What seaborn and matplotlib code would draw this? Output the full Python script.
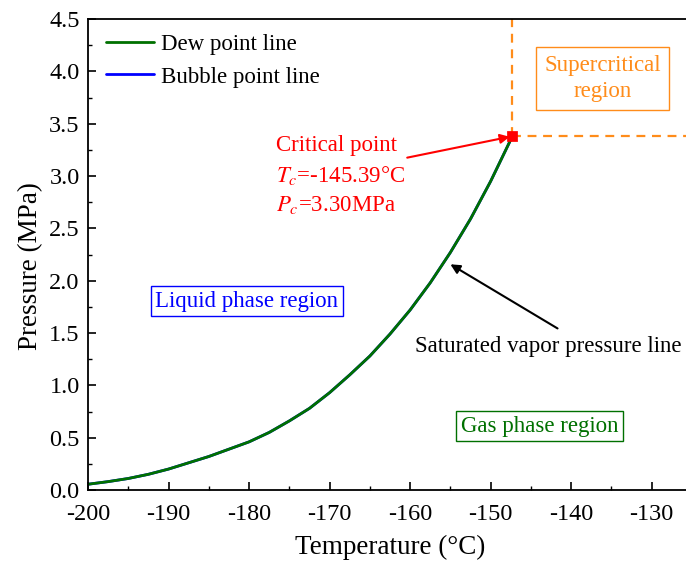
import numpy as np
import pandas as pd
import matplotlib
matplotlib.use("Agg")
import matplotlib.pyplot as plt
import seaborn as sns
from matplotlib.ticker import MultipleLocator

# Data
temperature = [-200, -197.5, -195, -192.5, -190, -187.5, -185, -182.5, -180, -177.5,
               -175, -172.5, -170, -167.5, -165, -162.5, -160, -157.5, -155, -152.5,
               -150, -147.3]
dew_pressure = [0.055, 0.08, 0.11, 0.15, 0.20, 0.26, 0.32, 0.39, 0.46, 0.55,
                0.66, 0.78, 0.93, 1.10, 1.28, 1.49, 1.72, 1.98, 2.27, 2.59,
                2.95, 3.38]
bubble_pressure = [0.055, 0.08, 0.11, 0.15, 0.20, 0.26, 0.32, 0.39, 0.46, 0.55,
                   0.66, 0.78, 0.93, 1.10, 1.28, 1.49, 1.72, 1.98, 2.27, 2.59,
                   2.95, 3.38]
critical_T = -147.3
critical_P = 3.38
x_ticks = [-200, -190, -180, -170, -160, -150, -140, -130]
y_ticks = [0.0, 0.5, 1.0, 1.5, 2.0, 2.5, 3.0, 3.5, 4.0, 4.5]

sns.set_theme(style="ticks")
plt.rcParams['font.family'] = ['Liberation Serif', 'DejaVu Serif']
plt.rcParams['mathtext.fontset'] = 'stix'
plt.rcParams['text.color'] = 'black'
plt.rcParams['axes.labelcolor'] = 'black'

df = pd.DataFrame({
    "T": temperature * 2,
    "P": bubble_pressure + dew_pressure,
    "line": ["Bubble point line"] * len(temperature) + ["Dew point line"] * len(temperature),
})

fig = plt.figure(figsize=(6.86, 5.62), dpi=100)
ax = fig.add_axes([88/686, 1 - 490/562, 604/686, 471/562])

sns.lineplot(data=df[df.line == "Bubble point line"], x="T", y="P", color="#0000FF",
             lw=2, ax=ax, label="Bubble point line", legend=False)
sns.lineplot(data=df[df.line == "Dew point line"], x="T", y="P", color="#007000",
             lw=2, ax=ax, label="Dew point line", legend=False)

orange = "#FF8C1A"
ax.plot([critical_T, critical_T], [critical_P, 4.5], ls=(0, (4, 3)), color=orange, lw=1.6)
ax.plot([critical_T, -125], [critical_P, critical_P], ls=(0, (4, 3)), color=orange, lw=1.6)
sns.scatterplot(x=[critical_T], y=[critical_P], marker="s", color="red", s=45,
                edgecolor="red", ax=ax, zorder=5)

ax.set_xlim(-200, -125)
ax.set_ylim(0, 4.5)
ax.set_xticks(x_ticks)
ax.set_yticks(y_ticks)
ax.set_xticklabels([str(t) for t in x_ticks])
ax.set_yticklabels([f"{t:.1f}" for t in y_ticks])
ax.xaxis.set_minor_locator(MultipleLocator(5))
ax.yaxis.set_minor_locator(MultipleLocator(0.25))
ax.tick_params(which="major", direction="in", length=6, width=1.2, labelsize=17.5,
               colors="black")
ax.tick_params(axis="y", which="major", pad=6)
ax.tick_params(axis="x", which="major", pad=10)
ax.tick_params(which="minor", direction="in", length=3, width=1.0, colors="black")
for s in ax.spines.values():
    s.set_linewidth(1.3)
    s.set_color("black")

ax.set_xlabel("Temperature (°C)", fontsize=19.5, labelpad=7, color="black")
ax.set_ylabel("Pressure (MPa)", fontsize=19.5, color="black")
ax.yaxis.set_label_coords(-0.075, 0.476)

handles, labels = ax.get_legend_handles_labels()
order = [labels.index("Dew point line"), labels.index("Bubble point line")]
leg = ax.legend([handles[i] for i in order], [labels[i] for i in order], loc="upper left",
                frameon=False, fontsize=16.5, handlelength=2.1, handletextpad=0.3,
                bbox_to_anchor=(-0.005, 1.012), labelspacing=0.5, borderaxespad=0.5)
for t in leg.get_texts():
    t.set_color("black")

ax.text(-136.1, 3.935, "Supercritical\nregion", color=orange, fontsize=16.5, ha="center",
        va="center", linespacing=1.3,
        bbox=dict(boxstyle="square,pad=0.35", fc="white", ec=orange, lw=1))

ax.annotate("", xy=(critical_T, critical_P), xytext=(-160.7, 3.17),
            arrowprops=dict(arrowstyle="-|>", color="red", lw=1.5, mutation_scale=14))
ax.text(-176.6, 3.39, "Critical point\n$T_c$=-145.39°C\n$P_c$=3.30MPa", color="red",
        fontsize=16.5, ha="left", va="top", linespacing=1.42)

ax.annotate("", xy=(-155.3, 2.17), xytext=(-141.4, 1.53),
            arrowprops=dict(arrowstyle="-|>", color="black", lw=1.5, mutation_scale=14))
ax.text(-142.9, 1.375, "Saturated vapor pressure line", color="black", fontsize=16.5,
        ha="center", va="center")

ax.text(-180.3, 1.805, "Liquid phase region", color="#0000FF", fontsize=16.5, ha="center",
        va="center", bbox=dict(boxstyle="square,pad=0.2", fc="white", ec="#0000FF", lw=1))
ax.text(-143.9, 0.61, "Gas phase region", color="#007000", fontsize=16.5, ha="center",
        va="center", bbox=dict(boxstyle="square,pad=0.2", fc="white", ec="#007000", lw=1))

fig.savefig("out.png", dpi=100)
